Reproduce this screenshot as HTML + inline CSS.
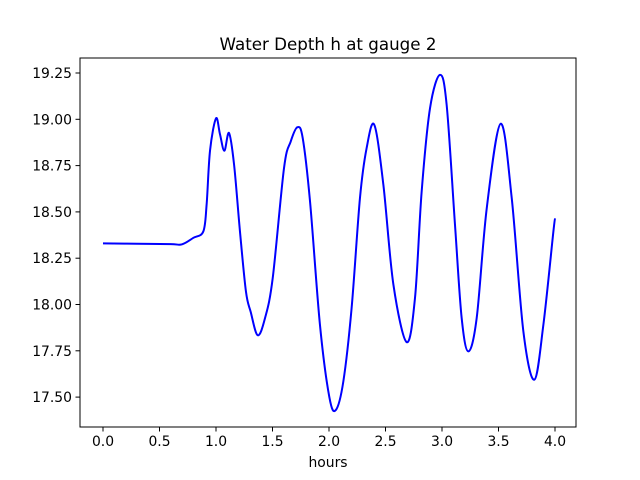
<!DOCTYPE html>
<html><head><meta charset="utf-8"><style>
html,body{margin:0;padding:0;background:#fff;}
svg{display:block;font-family:"DejaVu Sans","Liberation Sans",sans-serif;}
</style></head><body>
<svg id="chart" width="640" height="480">
<rect width="640" height="480" fill="#fff"/>
<text x="328" y="50" text-anchor="middle" font-size="16.7">Water Depth h at gauge 2</text>
<g id="xticks"></g>
<g id="yticks"></g>
<path id="line" fill="none" stroke="#0000ff" stroke-width="2" stroke-linejoin="round"/>
<rect x="80" y="58" width="496" height="369" fill="none" stroke="#000" stroke-width="1"/>
<text x="328" y="467" text-anchor="middle" font-size="13.9">hours</text>
</svg>
<script>
const times=[0,0.3,0.6,0.7,0.8,0.888,0.917,0.947,1.0,1.035,1.074,1.115,1.16,1.212,1.265,1.307,1.369,1.434,1.502,1.602,1.661,1.72,1.767,1.832,1.92,2.003,2.06,2.127,2.2,2.274,2.333,2.401,2.481,2.57,2.687,2.761,2.82,2.894,2.982,3.041,3.115,3.174,3.233,3.307,3.396,3.519,3.617,3.72,3.817,3.897,3.985,4.0];
const depths=[18.33,18.328,18.326,18.325,18.36,18.395,18.54,18.83,19.005,18.92,18.83,18.926,18.755,18.395,18.07,17.96,17.834,17.927,18.143,18.737,18.88,18.957,18.9,18.557,17.89,17.5,17.43,17.585,17.98,18.575,18.845,18.97,18.647,18.107,17.797,18.035,18.61,19.06,19.24,19.079,18.43,17.927,17.747,17.927,18.52,18.976,18.575,17.855,17.594,17.89,18.39,18.465];
const xTickVals=[0,0.5,1,1.5,2,2.5,3,3.5,4];
const xTickLabels=["0.0","0.5","1.0","1.5","2.0","2.5","3.0","3.5","4.0"];
const yTickVals=[17.5,17.75,18,18.25,18.5,18.75,19,19.25];
const yTickLabels=["17.50","17.75","18.00","18.25","18.50","18.75","19.00","19.25"];
const NS="http://www.w3.org/2000/svg";
function xs(t){return 103+113*t;}
function ys(v){return 73+(19.25-v)*185.2;}
const xg=document.getElementById('xticks'),yg=document.getElementById('yticks');
xTickVals.forEach((t,i)=>{
 const l=document.createElementNS(NS,'line');
 
 
 l.setAttribute('x1',xs(t));l.setAttribute('x2',xs(t));l.setAttribute('y1',427);l.setAttribute('y2',431.5);l.setAttribute('stroke','#000');
 xg.appendChild(l);
 const tx=document.createElementNS(NS,'text');
 
 
 tx.setAttribute('x',xs(t));tx.setAttribute('y',446);tx.setAttribute('text-anchor','middle');tx.setAttribute('font-size','13.9');
 tx.textContent=xTickLabels[i];xg.appendChild(tx);
});
yTickVals.forEach((v,i)=>{
 const l=document.createElementNS(NS,'line');
 
 
 l.setAttribute('x1',75.5);l.setAttribute('x2',80);l.setAttribute('y1',ys(v));l.setAttribute('y2',ys(v));l.setAttribute('stroke','#000');
 yg.appendChild(l);
 const tx=document.createElementNS(NS,'text');
 
 
 tx.setAttribute('x',72);tx.setAttribute('y',ys(v)+5);tx.setAttribute('text-anchor','end');tx.setAttribute('font-size','13.9');
 tx.textContent=yTickLabels[i];yg.appendChild(tx);
});
const P=times.map((t,i)=>[xs(t),ys(depths[i])]);
let d='M'+P[0][0]+','+P[0][1];
for(let i=0;i<P.length-1;i++){
 const p0=P[i-1]||P[i],p1=P[i],p2=P[i+1],p3=P[i+2]||P[i+1];
 const c1=[p1[0]+(p2[0]-p0[0])/6,p1[1]+(p2[1]-p0[1])/6];
 const c2=[p2[0]-(p3[0]-p1[0])/6,p2[1]-(p3[1]-p1[1])/6];
 d+=' C'+c1[0]+','+c1[1]+' '+c2[0]+','+c2[1]+' '+p2[0]+','+p2[1];
}
document.getElementById('line').setAttribute('d',d);
</script>
</body></html>
